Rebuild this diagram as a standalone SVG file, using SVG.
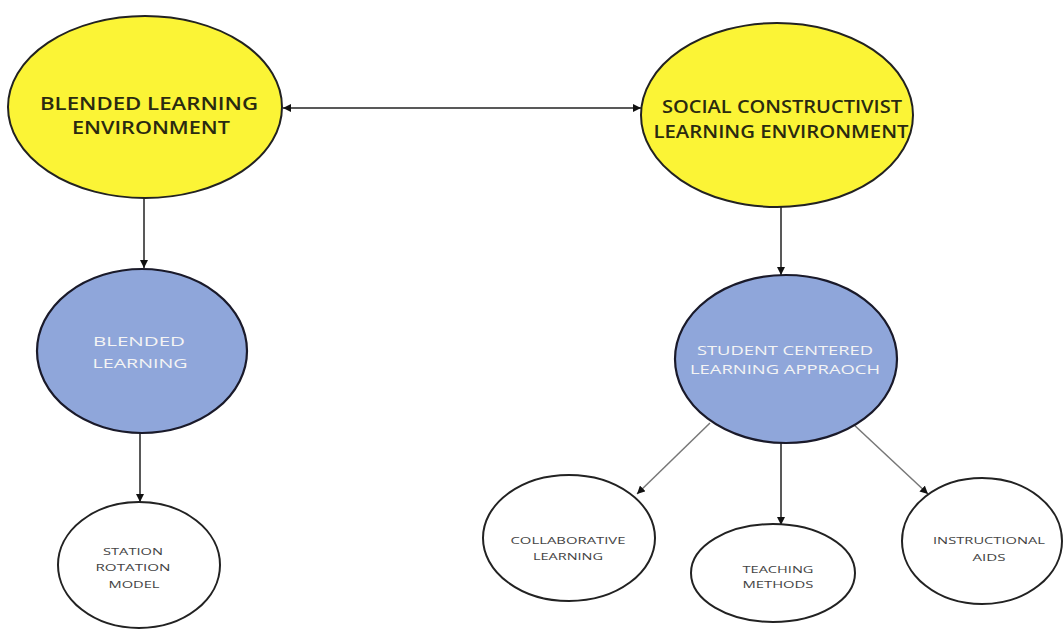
<svg xmlns="http://www.w3.org/2000/svg" width="1064" height="633" viewBox="0 0 1064 633">
<style>
.y{fill:#FBF436;stroke:#222;stroke-width:2}
.b{fill:#8FA6DA;stroke:#1a1a2a;stroke-width:2.2}
.w{fill:#fff;stroke:#222;stroke-width:2}
text{font-family:"Open Sans","Liberation Sans",sans-serif;text-anchor:middle}
.ty{font-size:18px;fill:#2a2a10;font-weight:600}
.tb{font-size:13px;fill:#f4f4f4}
.tw{font-size:9.5px;fill:#444}
.c{stroke:#222;stroke-width:1.5;fill:none}
.g{stroke:#777;stroke-width:1.5;fill:none}
</style>
<defs>
<marker id="a" viewBox="0 0 10 10" refX="10" refY="5" markerWidth="8" markerHeight="8" markerUnits="userSpaceOnUse" orient="auto-start-reverse"><path d="M0,0L10,5L0,10z" fill="#111"/></marker>
</defs>
<rect width="1064" height="633" fill="#fff"/>
<g id="connectors">
<line class="c" x1="283" y1="108" x2="641" y2="108" marker-start="url(#a)" marker-end="url(#a)"/>
<line class="c" x1="144" y1="198" x2="144" y2="268" marker-end="url(#a)"/>
<line class="c" x1="140" y1="433" x2="140" y2="502" marker-end="url(#a)"/>
<line class="c" x1="781" y1="207" x2="781" y2="275" marker-end="url(#a)"/>
<line class="g" x1="710" y1="423" x2="637" y2="494" marker-end="url(#a)"/>
<line class="c" x1="781" y1="443" x2="781" y2="525" marker-end="url(#a)"/>
<line class="g" x1="852" y1="423" x2="928" y2="494" marker-end="url(#a)"/>
</g>
<g id="blended-env">
<ellipse class="y" cx="145" cy="107" rx="137" ry="91"/>
<text class="ty" x="149" y="110" textLength="218" lengthAdjust="spacingAndGlyphs">BLENDED LEARNING</text>
<text class="ty" x="151" y="134" textLength="158" lengthAdjust="spacingAndGlyphs">ENVIRONMENT</text>
</g>
<g id="social-env">
<ellipse class="y" cx="777" cy="115" rx="136" ry="92"/>
<text class="ty" x="782" y="113" textLength="240" lengthAdjust="spacingAndGlyphs">SOCIAL CONSTRUCTIVIST</text>
<text class="ty" x="781" y="138" textLength="255" lengthAdjust="spacingAndGlyphs">LEARNING ENVIRONMENT</text>
</g>
<g id="blended-learning">
<ellipse class="b" cx="142" cy="351" rx="105" ry="82"/>
<text class="tb" x="139" y="346" textLength="92" lengthAdjust="spacingAndGlyphs">BLENDED</text>
<text class="tb" x="140" y="368" textLength="95" lengthAdjust="spacingAndGlyphs">LEARNING</text>
</g>
<g id="student-centered">
<ellipse class="b" cx="786" cy="359" rx="111" ry="84"/>
<text class="tb" x="785" y="355" textLength="176" lengthAdjust="spacingAndGlyphs">STUDENT CENTERED</text>
<text class="tb" x="785" y="374" textLength="190" lengthAdjust="spacingAndGlyphs">LEARNING APPRAOCH</text>
</g>
<g id="station">
<ellipse class="w" cx="139" cy="565" rx="81" ry="63"/>
<text class="tw" x="133" y="555" textLength="60" lengthAdjust="spacingAndGlyphs">STATION</text>
<text class="tw" x="133" y="571" textLength="75" lengthAdjust="spacingAndGlyphs">ROTATION</text>
<text class="tw" x="134" y="588" textLength="51" lengthAdjust="spacingAndGlyphs">MODEL</text>
</g>
<g id="collaborative">
<ellipse class="w" cx="569" cy="538" rx="86" ry="63"/>
<text class="tw" x="568" y="544" textLength="115" lengthAdjust="spacingAndGlyphs">COLLABORATIVE</text>
<text class="tw" x="568" y="560" textLength="70" lengthAdjust="spacingAndGlyphs">LEARNING</text>
</g>
<g id="teaching">
<ellipse class="w" cx="773" cy="573" rx="82" ry="49"/>
<text class="tw" x="778" y="573" textLength="71" lengthAdjust="spacingAndGlyphs">TEACHING</text>
<text class="tw" x="778" y="588" textLength="71" lengthAdjust="spacingAndGlyphs">METHODS</text>
</g>
<g id="instructional">
<ellipse class="w" cx="982" cy="541" rx="80" ry="63"/>
<text class="tw" x="989" y="544" textLength="112" lengthAdjust="spacingAndGlyphs">INSTRUCTIONAL</text>
<text class="tw" x="989" y="561" textLength="33" lengthAdjust="spacingAndGlyphs">AIDS</text>
</g>
</svg>
